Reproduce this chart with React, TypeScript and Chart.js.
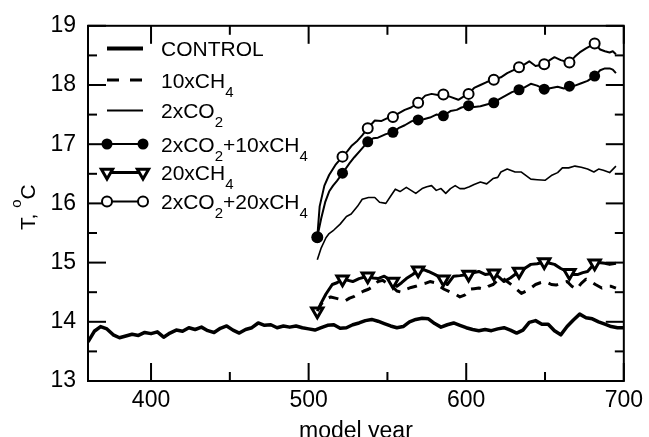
import React, { useEffect, useRef } from 'react';
import { Chart, registerables } from 'chart.js';

Chart.register(...registerables);

// ---------- data ----------
const xTickLabels = [400, 500, 600, 700];
const xMinorTicks = [450, 550, 650];
const yTickLabels = [13, 14, 15, 16, 17, 18, 19];
const yMinorTicks = [13.5, 14.5, 15.5, 16.5, 17.5, 18.5];

const markerYears = [505.5, 521.5, 537.5, 553.5, 569.5, 585.5, 601.5, 617.5, 633.5, 649.5, 665.5, 681.5];

const controlYears = [
  360, 364, 368, 372, 376, 380, 384, 388, 392, 396,
  400, 404, 408, 412, 416, 420, 424, 428, 432, 436,
  440, 444, 448, 452, 456, 460, 464, 468, 472, 476,
  480, 484, 488, 492, 496, 500, 504, 508, 512, 516,
  520, 524, 528, 532, 536, 540, 544, 548, 552, 556,
  560, 564, 568, 572, 576, 580, 584, 588, 592, 596,
  600, 604, 608, 612, 616, 620, 624, 628, 632, 636,
  640, 644, 648, 652, 656, 660, 664, 668, 672, 676,
  680, 684, 688, 692, 696, 700,
];
const controlT = [
  13.66, 13.84, 13.92, 13.88, 13.78, 13.73, 13.76, 13.79, 13.77, 13.82,
  13.80, 13.83, 13.74, 13.81, 13.86, 13.84, 13.90, 13.87, 13.91, 13.85,
  13.82, 13.89, 13.93, 13.86, 13.81, 13.87, 13.90, 13.98, 13.94, 13.95,
  13.90, 13.93, 13.91, 13.93, 13.90, 13.88, 13.86, 13.90, 13.94, 13.95,
  13.89, 13.90, 13.95, 13.98, 14.02, 14.04, 14.01, 13.97, 13.93, 13.90,
  13.92, 14.00, 14.04, 14.06, 14.05, 13.97, 13.91, 13.95, 13.98, 13.94,
  13.90, 13.87, 13.85, 13.87, 13.85, 13.88, 13.90, 13.86, 13.81, 13.86,
  13.99, 14.02, 13.96, 13.96, 13.85, 13.78, 13.92, 14.03, 14.13, 14.07,
  14.05, 14.00, 13.96, 13.92, 13.90, 13.90,
];

const ch10Years = [
  505.5, 508, 511, 514, 517, 520, 523, 526, 529, 532, 535, 538,
  541, 544, 547, 550, 553, 556, 559, 562, 565, 568, 571, 574,
  577, 580, 583, 586, 590, 593, 596, 599, 602, 605, 608, 611,
  614, 617, 620, 623, 626, 629, 632, 635, 638, 641, 644, 647,
  650, 654, 657, 660, 664, 667, 670, 673, 676, 679, 682, 686,
  689, 692, 695,
];
const ch10T = [
  14.18, 14.30, 14.38, 14.42, 14.40, 14.38, 14.35, 14.40, 14.43, 14.48, 14.52, 14.55,
  14.60, 14.68, 14.70, 14.65, 14.60, 14.52, 14.50, 14.55, 14.58, 14.60, 14.63, 14.65,
  14.68, 14.66, 14.60, 14.55, 14.50, 14.47, 14.42, 14.45, 14.55, 14.56, 14.57, 14.55,
  14.60, 14.63, 14.70, 14.74, 14.68, 14.62, 14.55, 14.48, 14.52, 14.57, 14.63, 14.66,
  14.68, 14.63, 14.62, 14.65, 14.68, 14.60, 14.55, 14.65, 14.72, 14.68, 14.63, 14.57,
  14.60, 14.60, 14.57,
];

const co2Years = [
  505.5, 508, 511, 513, 516, 520, 524, 527, 531, 534,
  538, 542, 545, 549, 552, 555, 558, 562, 565, 568,
  572, 575, 578, 581, 584, 587, 590, 593, 596, 599,
  602, 605, 609, 613, 617, 620, 622, 626, 631, 635,
  638, 641, 645, 650, 654, 658, 661, 665, 669, 673,
  677, 681, 684, 687, 691, 695,
];
const co2T = [
  15.05, 15.25, 15.42, 15.49, 15.55, 15.65, 15.78, 15.82, 15.95, 16.07,
  16.10, 16.10, 16.02, 16.00, 16.12, 16.24, 16.20, 16.27, 16.22, 16.17,
  16.25, 16.28, 16.30, 16.22, 16.25, 16.17, 16.25, 16.30, 16.25, 16.25,
  16.28, 16.32, 16.36, 16.33, 16.42, 16.44, 16.53, 16.58, 16.53, 16.53,
  16.47, 16.41, 16.40, 16.39, 16.47, 16.52, 16.60, 16.60, 16.63, 16.61,
  16.58, 16.53, 16.58, 16.56, 16.52, 16.63,
];

const co2ch10Years = [
  505.5, 508, 510.5, 513, 515.5, 518, 521.5, 526, 529, 533, 537.5,
  541, 544, 549, 553.5, 557, 561, 565.5, 569.5, 573, 577, 581, 585.5,
  590, 594, 597, 601.5, 605, 609, 613, 617.5, 621, 625, 629, 633.5,
  637, 641, 645, 649.5, 654, 658, 662, 665.5, 669, 673, 677, 681.5,
  685, 688, 691, 693, 695,
];
const co2ch10T = [
  15.43, 15.75, 16.02, 16.20, 16.30, 16.38, 16.51, 16.68, 16.78, 16.90, 17.04,
  17.10, 17.11, 17.17, 17.20, 17.27, 17.32, 17.39, 17.41, 17.42, 17.45, 17.50, 17.48,
  17.56, 17.58, 17.62, 17.65, 17.63, 17.64, 17.67, 17.70, 17.76, 17.82, 17.88, 17.92,
  17.96, 18.02, 17.99, 17.93, 17.95, 17.97, 17.94, 17.98, 17.99, 18.03, 18.07, 18.15,
  18.25, 18.28, 18.28, 18.26, 18.20,
];

const ch20Years = [
  505.5, 508, 511, 515, 518, 521.5, 525, 528, 532, 537.5,
  541, 544, 548, 551, 553.5, 556, 559, 562, 566, 569.5,
  573, 576, 580, 585.5, 588, 592, 596, 601.5, 605, 608,
  612, 617.5, 621, 624, 628, 633.5, 637, 641, 645, 649.5,
  653, 656, 660, 665.5, 668, 671, 674, 677, 681.5, 684,
  688, 691, 695,
];
const ch20T = [
  14.18, 14.32, 14.47, 14.63, 14.66, 14.72, 14.70, 14.68, 14.73, 14.77,
  14.74, 14.73, 14.77, 14.72, 14.68, 14.60, 14.66, 14.73, 14.80, 14.87,
  14.88, 14.85, 14.80, 14.72, 14.63, 14.77, 14.78, 14.80, 14.83, 14.85,
  14.80, 14.82, 14.75, 14.68, 14.74, 14.85, 14.90, 14.97, 14.98, 15.01,
  14.99, 14.97, 14.90, 14.83, 14.80, 14.80, 14.83, 14.85, 14.99, 15.00,
  14.99, 14.97, 14.99,
];

const co2ch20Years = [
  505.5, 507, 510, 513, 517, 521.5, 524.5, 527.5, 531, 534, 537.5,
  542, 546, 550, 553.5, 557, 561, 565, 569.5, 574, 578, 582, 585.5,
  590, 595, 598, 601.5, 605, 609, 613, 617.5, 622, 626, 630, 633.5,
  637, 640, 644, 649.5, 653, 656, 660, 665.5, 669, 672, 676, 681.5,
  685, 688, 691, 693, 695,
];
const co2ch20T = [
  15.43, 15.95, 16.30, 16.48, 16.65, 16.79, 16.88, 16.98, 17.06, 17.15, 17.27,
  17.40, 17.39, 17.44, 17.46, 17.52, 17.58, 17.62, 17.70, 17.82, 17.85, 17.83, 17.84,
  17.80, 17.75, 17.80, 17.85, 17.95, 18.00, 18.05, 18.09, 18.13, 18.20, 18.25, 18.30,
  18.35, 18.40, 18.32, 18.35, 18.42, 18.47, 18.42, 18.38, 18.48, 18.55, 18.62, 18.70,
  18.60, 18.57, 18.55, 18.57, 18.52,
];

// legend text segments: [text, isSubscript]
const legendLabels: [string, boolean][][] = [
  [['CONTROL', false]],
  [['10xCH', false], ['4', true]],
  [['2xCO', false], ['2', true]],
  [['2xCO', false], ['2', true], ['+10xCH', false], ['4', true]],
  [['20xCH', false], ['4', true]],
  [['2xCO', false], ['2', true], ['+20xCH', false], ['4', true]],
];

// ---------- styles ----------
const FONT = "'Liberation Sans', Arial, Helvetica, sans-serif";

type Style = {
  width: number;
  dash: number[];
  legendWidth: number;
  legendDash: number[];
  marker: null | 'filled' | 'open' | 'tri';
};

const styles: Style[] = [
  { width: 3.5, dash: [], legendWidth: 4, legendDash: [], marker: null },
  { width: 3, dash: [10, 8], legendWidth: 3, legendDash: [12, 11], marker: null },
  { width: 1.6, dash: [], legendWidth: 1.8, legendDash: [], marker: null },
  { width: 2, dash: [], legendWidth: 2, legendDash: [], marker: 'filled' },
  { width: 3, dash: [], legendWidth: 3, legendDash: [], marker: 'tri' },
  { width: 2, dash: [], legendWidth: 2, legendDash: [], marker: 'open' },
];

const legendRowY = [48.5, 80, 110.5, 144, 172.5, 201.5];

function drawMarker(ctx: CanvasRenderingContext2D, kind: string | null, x: number, y: number) {
  if (!kind) return;
  ctx.save();
  ctx.setLineDash([]);
  ctx.strokeStyle = '#000';
  ctx.beginPath();
  if (kind === 'filled') {
    ctx.arc(x, y, 5.5, 0, Math.PI * 2);
    ctx.fillStyle = '#000';
    ctx.fill();
  } else if (kind === 'open') {
    ctx.arc(x, y, 5, 0, Math.PI * 2);
    ctx.fillStyle = '#fff';
    ctx.fill();
    ctx.lineWidth = 2;
    ctx.stroke();
  } else if (kind === 'tri') {
    const r = 6.5;
    const s = Math.sin(Math.PI / 3) * r;
    ctx.moveTo(x, y + r);
    ctx.lineTo(x - s, y - r / 2);
    ctx.lineTo(x + s, y - r / 2);
    ctx.closePath();
    ctx.fillStyle = '#fff';
    ctx.fill();
    ctx.lineWidth = 3;
    ctx.lineJoin = 'miter';
    ctx.stroke();
  }
  ctx.restore();
}

const decorPlugin = {
  id: 'decor',
  afterDraw(chart: any) {
    const ctx: CanvasRenderingContext2D = chart.ctx;
    const a = chart.chartArea;
    const xs = chart.scales.x;
    const ys = chart.scales.y;
    ctx.save();
    ctx.setLineDash([]);
    ctx.fillStyle = '#000';
    const T = 2; // tick thickness
    const MAJ = 18;
    const MIN = 9;
    const hTick = (p: number, len: number) => {
      ctx.fillRect(a.left, p - T / 2, len, T);
      ctx.fillRect(a.right - len, p - T / 2, len, T);
    };
    const vTick = (p: number, len: number) => {
      ctx.fillRect(p - T / 2, a.bottom - len, T, len);
      ctx.fillRect(p - T / 2, a.top, T, len);
    };
    yTickLabels.forEach((v) => hTick(ys.getPixelForValue(v), MAJ));
    yMinorTicks.forEach((v) => hTick(ys.getPixelForValue(v), MIN));
    xTickLabels.forEach((v) => vTick(xs.getPixelForValue(v), MAJ));
    xMinorTicks.forEach((v) => vTick(xs.getPixelForValue(v), MIN));

    // frame
    ctx.strokeStyle = '#000';
    ctx.lineWidth = 2;
    ctx.strokeRect(a.left, a.top, a.right - a.left, a.bottom - a.top);

    // legend
    const seg = (x1: number, y1: number, x2: number, y2: number) => {
      ctx.beginPath();
      ctx.moveTo(x1, y1);
      ctx.lineTo(x2, y2);
      ctx.stroke();
    };
    const lx1 = 107;
    const lx2 = 143;
    const tx = 161;
    for (let i = 0; i < legendLabels.length; i++) {
      const st = styles[i];
      const y = legendRowY[i];
      ctx.save();
      ctx.lineWidth = st.legendWidth;
      ctx.setLineDash(st.legendDash);
      ctx.lineCap = 'butt';
      seg(lx1, y, lx2, y);
      ctx.restore();
      drawMarker(ctx, st.marker, lx1, y);
      drawMarker(ctx, st.marker, lx2, y);
      let x = tx;
      const base = y + 7.5;
      ctx.fillStyle = '#000';
      ctx.textAlign = 'left';
      ctx.textBaseline = 'alphabetic';
      for (const [t, sub] of legendLabels[i]) {
        ctx.font = sub ? `15px ${FONT}` : `21px ${FONT}`;
        ctx.fillText(t, x, sub ? base + 9 : base);
        x += ctx.measureText(t).width;
      }
    }

    // y axis title "T, °C" with superscript o
    ctx.save();
    ctx.translate(35, 230);
    ctx.rotate(-Math.PI / 2);
    ctx.fillStyle = '#000';
    ctx.textAlign = 'left';
    ctx.textBaseline = 'alphabetic';
    let u = 0;
    ctx.font = `21px ${FONT}`;
    ctx.fillText('T, ', u, 0);
    u += ctx.measureText('T, ').width;
    ctx.font = `15px ${FONT}`;
    ctx.fillText('o', u, -14);
    u += ctx.measureText('o').width;
    ctx.font = `21px ${FONT}`;
    ctx.fillText('C', u, 0);
    ctx.restore();

    ctx.restore();
  },
};

function makeDataset(years: number[], temps: number[], st: Style) {
  const pts = years.map((x, i) => ({ x, y: temps[i] }));
  let radius = 0;
  let pointStyle: any = 'circle';
  let rotation = 0;
  let bg = '#000';
  let bw = 0;
  if (st.marker === 'filled') {
    radius = 5.5; bg = '#000'; bw = 0;
  } else if (st.marker === 'open') {
    radius = 5; bg = '#fff'; bw = 2;
  } else if (st.marker === 'tri') {
    radius = 6.5; pointStyle = 'triangle'; rotation = 180; bg = '#fff'; bw = 3;
  }
  const radii = years.map((x) => (st.marker && markerYears.includes(x) ? radius : 0));
  return {
    data: pts,
    showLine: true,
    borderColor: '#000',
    borderWidth: st.width,
    borderDash: st.dash,
    borderJoinStyle: 'round' as const,
    tension: 0,
    fill: false,
    pointRadius: radii,
    pointHoverRadius: radii,
    pointStyle,
    pointRotation: rotation,
    pointBackgroundColor: bg,
    pointBorderColor: '#000',
    pointBorderWidth: bw,
  };
}

export default function App() {
  const ref = useRef<HTMLCanvasElement | null>(null);
  useEffect(() => {
    const canvas = ref.current;
    if (!canvas) return;
    Chart.defaults.font.family = FONT;
    Chart.defaults.color = '#000';
    const chart = new Chart(canvas, {
      type: 'scatter',
      data: {
        datasets: [
          makeDataset(controlYears, controlT, styles[0]),
          makeDataset(ch10Years, ch10T, styles[1]),
          makeDataset(co2Years, co2T, styles[2]),
          makeDataset(co2ch10Years, co2ch10T, styles[3]),
          makeDataset(ch20Years, ch20T, styles[4]),
          makeDataset(co2ch20Years, co2ch20T, styles[5]),
        ] as any,
      },
      options: {
        animation: false,
        responsive: false,
        devicePixelRatio: 1,
        events: [],
        layout: { padding: { top: 21, right: 22, left: 0, bottom: 0 } },
        plugins: {
          legend: { display: false },
          tooltip: { enabled: false },
        },
        scales: {
          x: {
            type: 'linear',
            min: 360,
            max: 700,
            grid: { display: false, drawTicks: false },
            border: { display: false },
            afterBuildTicks: (scale: any) => {
              scale.ticks = xTickLabels.map((v) => ({ value: v }));
            },
            afterFit: (scale: any) => {
              scale.height = 64;
            },
            ticks: {
              padding: 6,
              font: { size: 23, family: FONT },
              color: '#000',
              maxRotation: 0,
              autoSkip: false,
              callback: (v: any) => String(v),
            },
            title: {
              display: true,
              text: 'model year',
              font: { size: 23, family: FONT },
              color: '#000',
              padding: { top: 0, bottom: 0 },
            },
          },
          y: {
            type: 'linear',
            min: 13,
            max: 19,
            grid: { display: false, drawTicks: false },
            border: { display: false },
            afterBuildTicks: (scale: any) => {
              scale.ticks = yTickLabels.map((v) => ({ value: v }));
            },
            afterFit: (scale: any) => {
              scale.width = 88;
            },
            ticks: {
              padding: 12,
              font: { size: 23, family: FONT },
              color: '#000',
              autoSkip: false,
              callback: (v: any) => String(v),
            },
          },
        },
      } as any,
      plugins: [decorPlugin],
    });
    return () => chart.destroy();
  }, []);
  return (
    <div
      style={{
        position: 'fixed',
        left: 0,
        top: 0,
        width: 649,
        height: 437,
        overflow: 'hidden',
        background: '#fff',
      }}
    >
      <canvas ref={ref} width={649} height={445} style={{ display: 'block', width: 649, height: 445 }} />
    </div>
  );
}
